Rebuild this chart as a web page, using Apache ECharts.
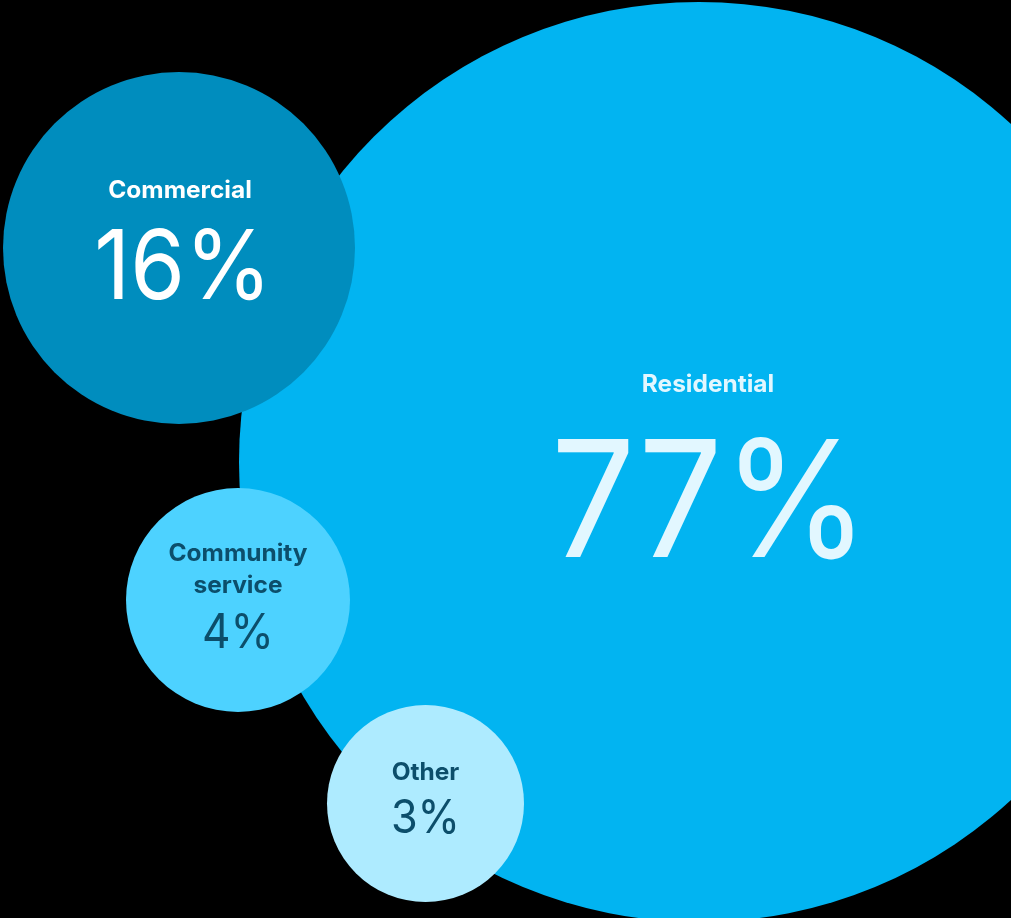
<!DOCTYPE html>
<html>
<head>
<meta charset="utf-8">
<style>
  html, body { margin: 0; padding: 0; background: #000; }
  #chart { width: 1011px; height: 918px; }
</style>
<script src="https://cdn.jsdelivr.net/npm/echarts@6/dist/echarts.min.js"></script>
</head>
<body>
<div id="chart"></div>
<script>
// Share of buildings by use
const categories = ['Residential', 'Commercial', 'Community service', 'Other'];
const shares = [77, 16, 4, 3];

// Bubble layout in plot units (x right, y down), radius in x units
const bubbleX = [699, 179, 238, 425.5];
const bubbleY = [462, 248, 600, 803.5];
const bubbleR = [460, 176, 112, 98.5];

const fills = ['#02B4F1', '#008DBE', '#4DD2FF', '#AEEBFF'];
const textColors = ['#E2F7FF', '#FFFFFF', '#0C4E6B', '#0C4E6B'];
// label lines and value, top offsets relative to the bubble centre
const nameLines = [['Residential'], ['Commercial'], ['Community', 'service'], ['Other']];
const nameTop = [[-89], [-69], [-58], [-43]];
const lineGap = 32;
const valueTop = [-35, -26, 10, -8];
const valueSize = [162, 96, 48, 47];
const nameShiftX = [9, 1, 0, 0];
const valueShiftX = [11, 4, 0, 0];

const FONT = 'Inter, "Noto Sans", sans-serif';

const chart = echarts.init(document.getElementById('chart'));
chart.setOption({
  backgroundColor: '#000000',
  animation: false,
  grid: { left: 0, right: 0, top: 0, bottom: 0 },
  xAxis: { type: 'value', min: 0, max: 1011, show: false },
  yAxis: { type: 'value', min: 0, max: 918, inverse: true, show: false },
  series: [{
    type: 'custom',
    coordinateSystem: 'cartesian2d',
    data: categories.map((c, i) => [bubbleX[i], bubbleY[i], bubbleR[i], shares[i]]),
    encode: { x: 0, y: 1 },
    renderItem: function (params, api) {
      const i = params.dataIndex;
      const c = api.coord([api.value(0), api.value(1)]);
      const r = api.size([api.value(2), 0])[0];
      const children = [{
        type: 'circle',
        shape: { cx: c[0], cy: c[1], r: r },
        style: { fill: fills[i] }
      }];
      nameLines[i].forEach((line, k) => {
        children.push({
          type: 'text',
          x: c[0] + nameShiftX[i],
          y: c[1] + nameTop[i][0] + k * lineGap,
          scaleX: 1.02,
          style: {
            x: 0, y: 0,
            text: line,
            fill: textColors[i],
            font: '700 24px ' + FONT,
            textAlign: 'center',
            textVerticalAlign: 'top'
          }
        });
      });
      children.push({
        type: 'text',
        x: c[0] + valueShiftX[i],
        y: c[1] + valueTop[i],
        scaleX: 0.92,
        style: {
          x: 0, y: 0,
          text: api.value(3) + '%',
          fill: textColors[i],
          font: '400 ' + valueSize[i] + 'px ' + FONT,
          textAlign: 'center',
          textVerticalAlign: 'top'
        }
      });
      return { type: 'group', children: children };
    }
  }]
});
</script>
</body>
</html>
